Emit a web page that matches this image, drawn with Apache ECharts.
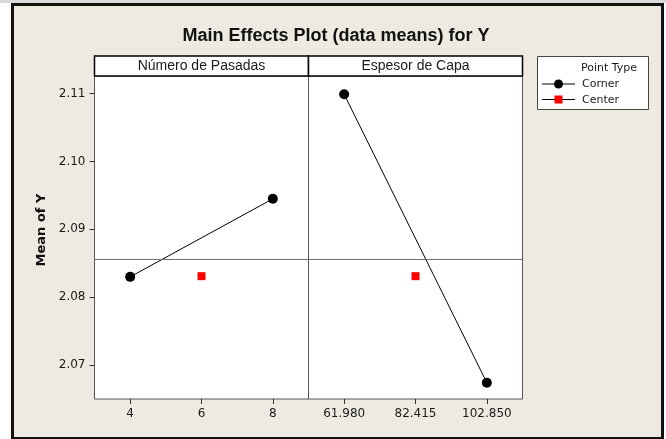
<!DOCTYPE html>
<html>
<head>
<meta charset="utf-8">
<script src="https://cdn.jsdelivr.net/npm/echarts@6/dist/echarts.min.js"></script>
<style>
html,body{margin:0;padding:0;background:#ffffff;}
#chart{width:666px;height:439px;}
</style>
</head>
<body>
<div id="chart"></div>
<script>
// ---- data ----
const panelTitles = ['Número de Pasadas', 'Espesor de Capa'];
const pasadasLevels = ['4', '6', '8'];
const espesorLevels = ['61.980', '82.415', '102.850'];
const pasadasCorner = [['4', 2.0830], ['8', 2.0945]];
const pasadasCenter = [['6', 2.0831]];
const espesorCorner = [['61.980', 2.1099], ['102.850', 2.0674]];
const espesorCenter = [['82.415', 2.0831]];
const overallMean = 2.0856;
const yTicks = [2.07, 2.08, 2.09, 2.10, 2.11];
const yMin = 2.065, yMax = 2.1126;

const chart = echarts.init(document.getElementById('chart'), null, {renderer: 'canvas'});
const FONT = 'DejaVu Sans';
const TXT = '#1a1a1a';

const gridTop = 76, gridH = 323;
const g1L = 94.5, g1W = 214, g2L = 308.5, g2W = 214;

function xAx(idx, cats) {
  return {
    type: 'category', gridIndex: idx, data: cats, boundaryGap: true,
    axisLine: {show: false},
    axisTick: {show: true, alignWithLabel: true, length: 5, inside: false, lineStyle: {color: '#333'}},
    axisLabel: {color: TXT, fontFamily: FONT, fontSize: 12, margin: 9},
    splitLine: {show: false}
  };
}
function yAx(idx, showLabels) {
  return {
    type: 'value', gridIndex: idx, min: yMin, max: yMax,
    axisLine: {show: false},
    axisTick: {show: showLabels, length: 5, customValues: yTicks, lineStyle: {color: '#333'}},
    axisLabel: {show: showLabels, customValues: yTicks, color: TXT, fontFamily: FONT, fontSize: 12, margin: 9,
      formatter: v => v.toFixed(2)},
    splitLine: {show: false}
  };
}
function meanLine() {
  return {silent: true, symbol: 'none', precision: 6, label: {show: false},
    lineStyle: {color: '#707070', width: 1, type: 'solid'},
    data: [{yAxis: overallMean}]};
}
function cornerSeries(idx, data) {
  return {name: 'Corner', type: 'line', xAxisIndex: idx, yAxisIndex: idx, data: data,
    symbol: 'circle', symbolSize: 10, lineStyle: {color: '#000', width: 1},
    itemStyle: {color: '#000'}, markLine: meanLine(), animation: false, z: 3};
}
function centerSeries(idx, data) {
  return {name: 'Center', type: 'scatter', xAxisIndex: idx, yAxisIndex: idx, data: data,
    symbol: 'rect', symbolSize: 8, itemStyle: {color: '#ff0000', opacity: 1}, animation: false, z: 4};
}

const option = {
  backgroundColor: '#ffffff',
  animation: false,
  grid: [
    {left: g1L, top: gridTop, width: g1W, height: gridH, show: true, backgroundColor: '#fff', borderColor: '#555', borderWidth: 1},
    {left: g2L, top: gridTop, width: g2W, height: gridH, show: true, backgroundColor: '#fff', borderColor: '#555', borderWidth: 1}
  ],
  xAxis: [xAx(0, pasadasLevels), xAx(1, espesorLevels)],
  yAxis: [yAx(0, true), yAx(1, false)],
  series: [
    cornerSeries(0, pasadasCorner), centerSeries(0, pasadasCenter),
    cornerSeries(1, espesorCorner), centerSeries(1, espesorCenter)
  ],
  graphic: [
    // outer frame
    {type: 'rect', z: -10, silent: true, shape: {x: 0, y: 0, width: 666, height: 3}, style: {fill: '#d9d9d9'}},
    {type: 'rect', z: -10, silent: true, shape: {x: 12.5, y: 4.5, width: 650, height: 434}, style: {fill: '#eeeae1', stroke: '#111', lineWidth: 3}},
    // title
    {type: 'text', z: 10, style: {text: 'Main Effects Plot (data means) for Y', x: 336, y: 36, align: 'center', verticalAlign: 'middle', fill: '#111',
      font: 'bold 18px "Liberation Sans", Arial, sans-serif'}},
    // panel headers
    {type: 'rect', z: 10, silent: true, shape: {x: g1L, y: 56, width: g1W, height: 20}, style: {fill: '#fff', stroke: '#000', lineWidth: 1.5}},
    {type: 'rect', z: 10, silent: true, shape: {x: g2L, y: 56, width: g2W, height: 20}, style: {fill: '#fff', stroke: '#000', lineWidth: 1.5}},
    {type: 'text', z: 11, style: {text: panelTitles[0], x: g1L + g1W / 2, y: 66.5, align: 'center', verticalAlign: 'middle', fill: TXT,
      font: '14px "Liberation Sans", Arial, sans-serif'}},
    {type: 'text', z: 11, style: {text: panelTitles[1], x: g2L + g2W / 2, y: 66.5, align: 'center', verticalAlign: 'middle', fill: TXT,
      font: '14px "Liberation Sans", Arial, sans-serif'}},
    // y axis name
    {type: 'text', z: 11, rotation: Math.PI / 2, x: 42, y: 230, style: {text: 'Mean of Y', x: 0, y: 0, align: 'center', verticalAlign: 'middle', fill: '#111',
      font: 'bold 13px "DejaVu Sans", sans-serif'}},
    // legend
    {type: 'rect', z: 10, silent: true, shape: {x: 537.5, y: 56.5, width: 111, height: 53}, style: {fill: '#fff', stroke: '#444', lineWidth: 1}},
    {type: 'text', z: 11, style: {text: 'Point Type', x: 637, y: 68, align: 'right', verticalAlign: 'middle', fill: TXT, font: '11px "DejaVu Sans", sans-serif'}},
    {type: 'line', z: 11, shape: {x1: 542, y1: 84, x2: 575, y2: 84}, style: {stroke: '#000', lineWidth: 1}},
    {type: 'circle', z: 12, shape: {cx: 558.5, cy: 84, r: 4.5}, style: {fill: '#000'}},
    {type: 'text', z: 11, style: {text: 'Corner', x: 582, y: 84, align: 'left', verticalAlign: 'middle', fill: TXT, font: '11px "DejaVu Sans", sans-serif'}},
    {type: 'line', z: 11, shape: {x1: 542, y1: 99.5, x2: 575, y2: 99.5}, style: {stroke: '#000', lineWidth: 1}},
    {type: 'rect', z: 12, shape: {x: 554.5, y: 95.5, width: 8, height: 8}, style: {fill: '#ff0000'}},
    {type: 'text', z: 11, style: {text: 'Center', x: 582, y: 100, align: 'left', verticalAlign: 'middle', fill: TXT, font: '11px "DejaVu Sans", sans-serif'}}
  ]
};
chart.setOption(option);
</script>
</body>
</html>
